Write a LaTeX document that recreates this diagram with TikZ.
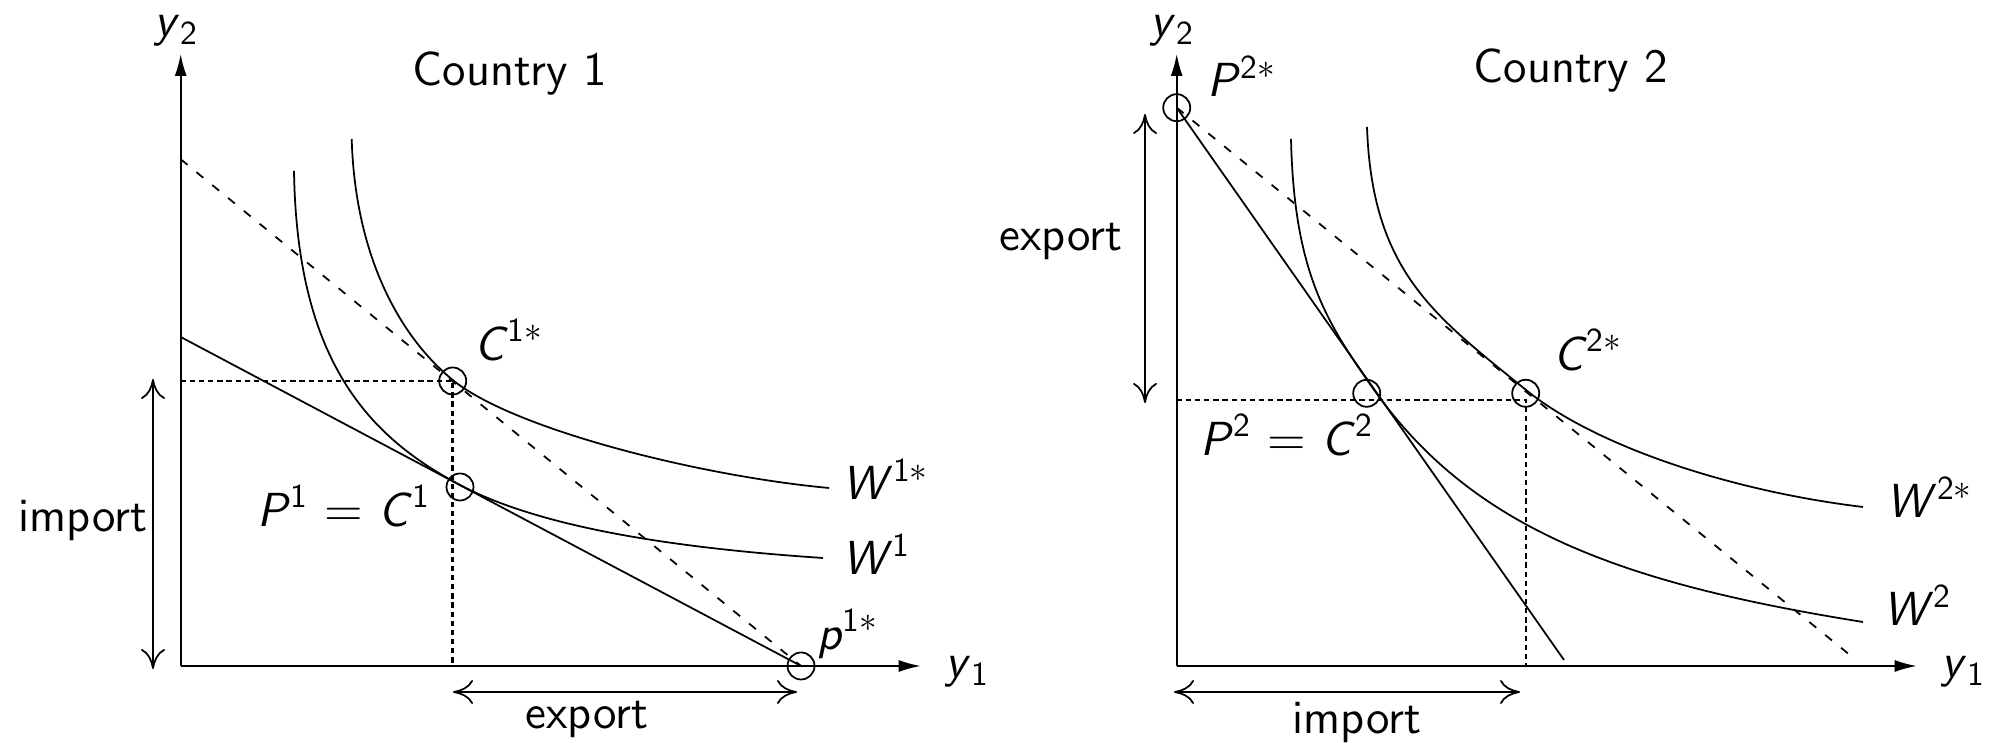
\documentclass[tikz,border=0pt]{standalone}
\usetikzlibrary{arrows.meta}
\newcommand{\mvar}[1]{\textit{#1}}

\begin{document}
\begin{tikzpicture}[
    axis/.style={-{Latex[length=2.2mm,width=1.2mm]}},
    span/.style={{To[length=2mm,width=2.4mm]}-{To[length=2mm,width=2.4mm]}},
    guide/.style={line width=0.7pt, dash pattern=on 1.5pt off 1.1pt},
    world/.style={dash pattern=on 2.5pt off 3.3pt},
    spot/.style={draw, circle, minimum size=2.7mm, inner sep=0pt},
    lbl/.style={font=\fontsize{13.6pt}{16pt}\selectfont\sffamily, inner sep=0pt},
    line width=0.5pt]
  \useasboundingbox (0,0) rectangle (20.01,7.43);

  % axes of both countries
  \foreach \x/\n in {1.807/1, 11.767/2} {
    \coordinate (o\n) at (\x,0.77);
    \coordinate (yt\n) at (\x,6.89);
    \coordinate (xt\n) at (\x+7.4,0.77);
    \draw[axis] (o\n) -- (yt\n);
    \draw[axis] (o\n) -- (xt\n);
    \node[lbl] (yl\n) at (\x-0.04,7.12) {\mvar{y}\textsubscript{2}};
    \node[lbl] (xl\n) at (\x+7.87,0.71) {\mvar{y}\textsubscript{1}};
  }

  % country 1
  \node[lbl] (t1) at (5.10,6.69) {Country 1};
  \coordinate (a1) at (1.807,4.06);
  \coordinate (b1) at (1.807,5.837);
  \node[spot] (p1s) at (8.01,0.77) {};
  \node[spot] (c1s) at (4.527,3.62) {};
  \node[spot] (c1) at (4.60,2.56) {};
  \draw (a1) -- (p1s.center);
  \draw[world] (b1) -- (p1s.center);
  \draw[guide] (o1 |- c1s.center) -- (c1s.center) -- (c1s.center |- o1);
  % W1*
  \draw (3.517,6.04) .. controls (3.55,4.9) and (3.977,4.08) .. (4.527,3.63)
    .. controls (5.127,3.14) and (6.99,2.67) .. (8.29,2.55);
  % W1
  \draw (2.94,5.72) .. controls (2.97,3.8) and (3.70,3.057) .. (4.60,2.58)
    .. controls (5.40,2.156) and (6.73,1.95) .. (8.23,1.85);
  \node[lbl] (c1sl) at (5.09,4.03) {\mvar{C}\textsuperscript{1$*$}};
  \node[lbl] (c1l) at (3.44,2.37) {\mvar{P}\textsuperscript{1} $=$ \mvar{C}\textsuperscript{1}};
  \node[lbl] (w1sl) at (8.86,2.64) {\mvar{W}\textsuperscript{1$*$}};
  \node[lbl] (w1l) at (8.77,1.89) {\mvar{W}\textsuperscript{1}};
  \node[lbl] (p1sl) at (8.48,1.09) {\mvar{p}\textsuperscript{1$*$}};
  \coordinate (im1a) at (1.53,3.64);
  \coordinate (im1b) at (1.53,0.74);
  \draw[span] (im1a) -- (im1b);
  \node[lbl] (im1) at (0.83,2.22) {import};
  \coordinate (ex1a) at (4.53,0.51);
  \coordinate (ex1b) at (7.97,0.51);
  \draw[span] (ex1a) -- (ex1b);
  \node[lbl] (ex1) at (5.87,0.23) {export};

  % country 2
  \node[lbl] (t2) at (15.71,6.72) {Country 2};
  \node[spot] (p2s) at (11.767,6.353) {};
  \node[spot] (c2) at (13.667,3.497) {};
  \node[spot] (c2s) at (15.257,3.497) {};
  \coordinate (e2) at (15.64,0.83);
  \coordinate (f2) at (18.56,0.83);
  \coordinate (g2) at (15.26,3.43);
  \draw (p2s.center) -- (e2);
  \draw[world] (p2s.center) -- (f2);
  \draw[guide] (o2 |- g2) -- (g2) -- (g2 |- o2);
  % W2*
  \draw (13.67,6.16) .. controls (13.72,4.7) and (14.36,4.262) .. (15.26,3.53)
    .. controls (15.96,2.961) and (17.33,2.516) .. (18.63,2.36);
  % W2
  \draw (12.91,6.04) .. controls (12.94,4.7) and (13.27,4.2035) .. (13.72,3.56)
    .. controls (14.72,2.13) and (16.23,1.594) .. (18.63,1.21);
  \node[lbl] (p2sl) at (12.42,6.67) {\mvar{P}\textsuperscript{2$*$}};
  \node[lbl] (c2sl) at (15.88,3.93) {\mvar{C}\textsuperscript{2$*$}};
  \node[lbl] (c2l) at (12.87,3.08) {\mvar{P}\textsuperscript{2} $=$ \mvar{C}\textsuperscript{2}};
  \node[lbl] (w2sl) at (19.30,2.46) {\mvar{W}\textsuperscript{2$*$}};
  \node[lbl] (w2l) at (19.18,1.38) {\mvar{W}\textsuperscript{2}};
  \coordinate (ex2a) at (11.45,6.29);
  \coordinate (ex2b) at (11.45,3.40);
  \draw[span] (ex2a) -- (ex2b);
  \node[lbl] (ex2) at (10.61,5.01) {export};
  \coordinate (im2a) at (11.74,0.51);
  \coordinate (im2b) at (15.20,0.51);
  \draw[span] (im2a) -- (im2b);
  \node[lbl] (im2) at (13.57,0.20) {import};
\end{tikzpicture}
\end{document}
